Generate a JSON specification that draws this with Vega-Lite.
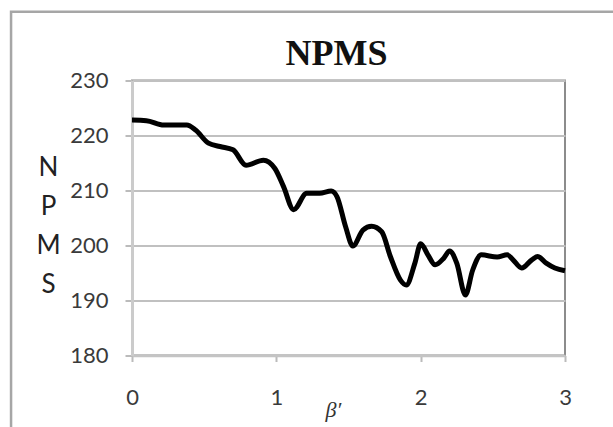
{
  "$schema": "https://vega.github.io/schema/vega-lite/v6.json",
  "width": 433,
  "height": 275,
  "autosize": {"type": "none"},
  "padding": {"left": 132, "top": 80.5, "right": 48, "bottom": 71.5},
  "background": "white",
  "config": {"view": {"stroke": "#8c8c8c", "strokeWidth": 2}, "font": "Lato"},
  "title": {
    "text": "NPMS",
    "font": "Liberation Serif",
    "fontSize": 36,
    "fontWeight": "bold",
    "color": "#111111",
    "anchor": "middle",
    "frame": "group",
    "dx": -12,
    "offset": 0,
    "dy": 90,
    "baseline": "alphabetic"
  },
  "layer": [
    {
      "data": {
        "values": [
          {"beta": 0.0, "npms": 222.8},
          {"beta": 0.1, "npms": 222.7},
          {"beta": 0.22, "npms": 221.9},
          {"beta": 0.38, "npms": 221.9},
          {"beta": 0.44, "npms": 221.0},
          {"beta": 0.53, "npms": 218.6},
          {"beta": 0.61, "npms": 218.0},
          {"beta": 0.7, "npms": 217.4},
          {"beta": 0.79, "npms": 214.6},
          {"beta": 0.91, "npms": 215.5},
          {"beta": 0.99, "npms": 214.0},
          {"beta": 1.05, "npms": 210.7},
          {"beta": 1.12, "npms": 206.5},
          {"beta": 1.21, "npms": 209.5},
          {"beta": 1.3, "npms": 209.5},
          {"beta": 1.38, "npms": 209.9},
          {"beta": 1.42, "npms": 208.9},
          {"beta": 1.48, "npms": 203.4},
          {"beta": 1.53, "npms": 199.9},
          {"beta": 1.6, "npms": 202.8},
          {"beta": 1.66, "npms": 203.5},
          {"beta": 1.73, "npms": 202.5},
          {"beta": 1.79, "npms": 198.0},
          {"beta": 1.86, "npms": 193.7},
          {"beta": 1.9, "npms": 192.8},
          {"beta": 1.96, "npms": 196.8},
          {"beta": 2.0, "npms": 200.3},
          {"beta": 2.05, "npms": 198.3},
          {"beta": 2.1, "npms": 196.5},
          {"beta": 2.16, "npms": 197.7},
          {"beta": 2.2, "npms": 199.0},
          {"beta": 2.25, "npms": 196.8},
          {"beta": 2.31, "npms": 191.0},
          {"beta": 2.36, "npms": 195.5},
          {"beta": 2.42, "npms": 198.3},
          {"beta": 2.53, "npms": 197.9},
          {"beta": 2.6, "npms": 198.3},
          {"beta": 2.64, "npms": 197.4},
          {"beta": 2.7, "npms": 195.9},
          {"beta": 2.77, "npms": 197.4},
          {"beta": 2.81, "npms": 198.0},
          {"beta": 2.87, "npms": 196.8},
          {"beta": 2.93, "npms": 195.9},
          {"beta": 3.0, "npms": 195.4}
        ]
      },
      "mark": {"type": "line", "interpolate": "monotone", "color": "black", "strokeWidth": 5},
      "encoding": {
        "x": {
          "field": "beta",
          "type": "quantitative",
          "scale": {"domain": [0, 3], "nice": false, "zero": false},
          "axis": {
            "title": "β′",
            "titleFont": "Liberation Serif",
            "titleFontStyle": "italic",
            "titleFontWeight": "normal",
            "titleFontSize": 22,
            "titleColor": "#333333",
            "titleX": 201,
            "titleY": 54,
            "titleAlign": "center",
            "titleBaseline": "middle",
            "values": [0, 1, 2, 3],
            "format": "d",
            "labelFont": "Lato",
            "labelFontSize": 22,
            "labelColor": "#3a3a3a",
            "labelPadding": 26,
            "labelFlush": false,
            "tickSize": 6,
            "tickColor": "#bbbbbb",
            "tickWidth": 2,
            "domainColor": "#c4c4c4",
            "domainWidth": 2.5,
            "grid": false
          }
        },
        "y": {
          "field": "npms",
          "type": "quantitative",
          "scale": {"domain": [180, 230], "nice": false, "zero": false},
          "axis": {
            "values": [180, 190, 200, 210, 220, 230],
            "grid": true,
            "gridColor": "#c0c0c0",
            "gridWidth": 2,
            "tickSize": 7,
            "tickColor": "#bbbbbb",
            "tickWidth": 2,
            "domainColor": "#cbcbcb",
            "domainWidth": 3,
            "labelFont": "Lato",
            "labelFontSize": 22,
            "labelColor": "#3a3a3a",
            "labelPadding": 17,
            "title": ["N", "P", "M", "S"],
            "titleAngle": 0,
            "titleX": -84,
            "titleY": 94.5,
            "titleAlign": "center",
            "titleBaseline": "alphabetic",
            "titleLineHeight": 39.3,
            "titleFont": "Lato",
            "titleFontSize": 26,
            "titleFontWeight": "normal",
            "titleColor": "#222222"
          }
        }
      }
    },
    {
      "data": {"values": [{}]},
      "mark": {"type": "rect", "fill": null, "stroke": "#a6a6a6", "strokeWidth": 2.5, "clip": false},
      "encoding": {
        "x": {"datum": -0.838, "type": "quantitative", "scale": {"domain": [0, 3], "nice": false, "zero": false}},
        "x2": {"datum": 3.4},
        "y": {"datum": 242.5, "type": "quantitative", "scale": {"domain": [180, 230], "nice": false, "zero": false}},
        "y2": {"datum": 165}
      }
    }
  ]
}
